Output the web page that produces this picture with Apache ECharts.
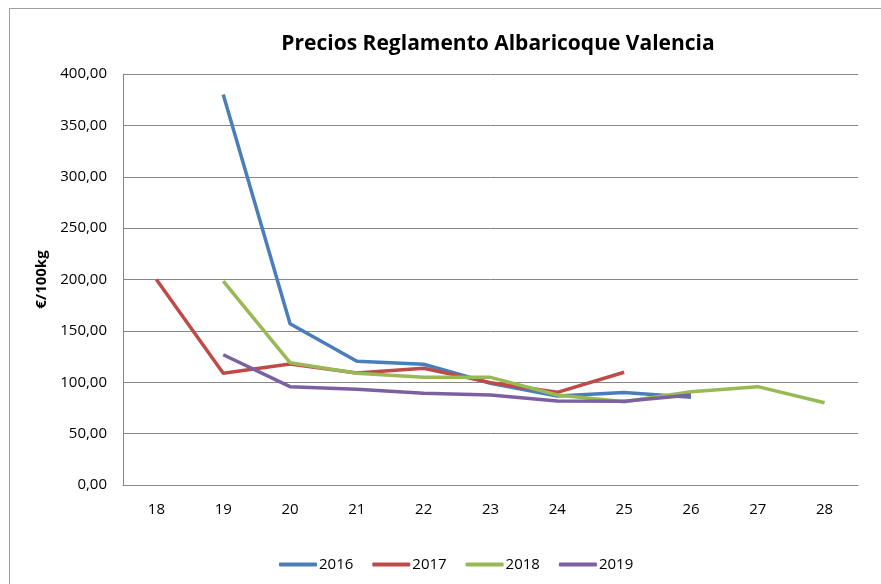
<!DOCTYPE html>
<html>
<head>
<meta charset="utf-8">
<script src="https://cdn.jsdelivr.net/npm/echarts@6/dist/echarts.min.js"></script>
<style>
  html, body { margin: 0; padding: 0; background: #fff; }
  #chart { width: 881px; height: 584px; }
  #frame { position: absolute; left: 9px; top: 8px; width: 880px; height: 590px; border: 1px solid #a0a0a0; box-sizing: border-box; pointer-events: none; }
</style>
</head>
<body>
<div id="chart"></div>
<div id="frame"></div>
<script>
  // semanas
  var weeks = ['18', '19', '20', '21', '22', '23', '24', '25', '26', '27', '28'];
  var yTicks = [0, 50, 100, 150, 200, 250, 300, 350, 400];
  var years = ['2016', '2017', '2018', '2019'];
  var colors = ['#4A7EBB', '#BE4B48', '#98B954', '#7D60A0'];
  // precios €/100kg por semana
  var p2016 = [null, 380, 157, 120.5, 117.5, 99, 86.5, 90, 85.5, null, null];
  var p2017 = [200, 108.7, 117.8, 109, 113.6, 99.6, 90.2, 109.7, null, null, null];
  var p2018 = [null, 198.5, 119, 108.7, 104.8, 104.8, 87.6, 81, 90.8, 95.7, 80];
  var p2019 = [null, 126.8, 95.7, 93.1, 89.2, 87.6, 81.7, 81.5, 87.6, null, null];

  var allData = [p2016, p2017, p2018, p2019];
  var series = [];
  for (var i = 0; i < years.length; i++) {
    series.push({
      name: years[i],
      type: 'line',
      data: allData[i],
      symbol: 'none',
      lineStyle: { width: 3.5, color: colors[i] },
      itemStyle: { color: colors[i] }
    });
  }

  var myChart = echarts.init(document.getElementById('chart'));
  myChart.setOption({
    animation: false,
    title: {
      text: 'Precios Reglamento Albaricoque Valencia',
      left: 493,
      textAlign: 'center',
      top: 29,
      textStyle: { fontFamily: 'Open Sans', fontWeight: 'bold', fontSize: 21, color: '#000' }
    },
    legend: {
      data: years,
      top: 552,
      left: 274,
      itemGap: 19,
      itemWidth: 38,
      itemHeight: 4,
      icon: 'roundRect',
      textStyle: { fontFamily: 'Open Sans', fontSize: 15, color: '#000', padding: [0, 0, 0, -3] }
    },
    grid: { left: 123, right: 23, top: 74, bottom: 99 },
    xAxis: {
      type: 'category',
      data: weeks,
      boundaryGap: true,
      axisLine: { lineStyle: { color: '#868686', width: 1 } },
      axisTick: { show: false },
      axisLabel: { fontFamily: 'Open Sans', fontSize: 15, color: '#000', margin: 17 }
    },
    yAxis: {
      type: 'value',
      min: yTicks[0],
      max: yTicks[yTicks.length - 1],
      interval: 50,
      name: '€/100kg',
      nameLocation: 'middle',
      nameGap: 72,
      nameTextStyle: { fontFamily: 'Open Sans', fontWeight: 'bold', fontSize: 15, color: '#000' },
      axisLine: { show: true, lineStyle: { color: '#868686', width: 1 } },
      axisTick: { show: false },
      splitLine: { lineStyle: { color: '#868686', width: 1 } },
      axisLabel: {
        fontFamily: 'Open Sans', fontSize: 15, color: '#000', margin: 16,
        formatter: function (v) { return v.toFixed(2).replace('.', ','); }
      }
    },
    series: series
  });
</script>
</body>
</html>
